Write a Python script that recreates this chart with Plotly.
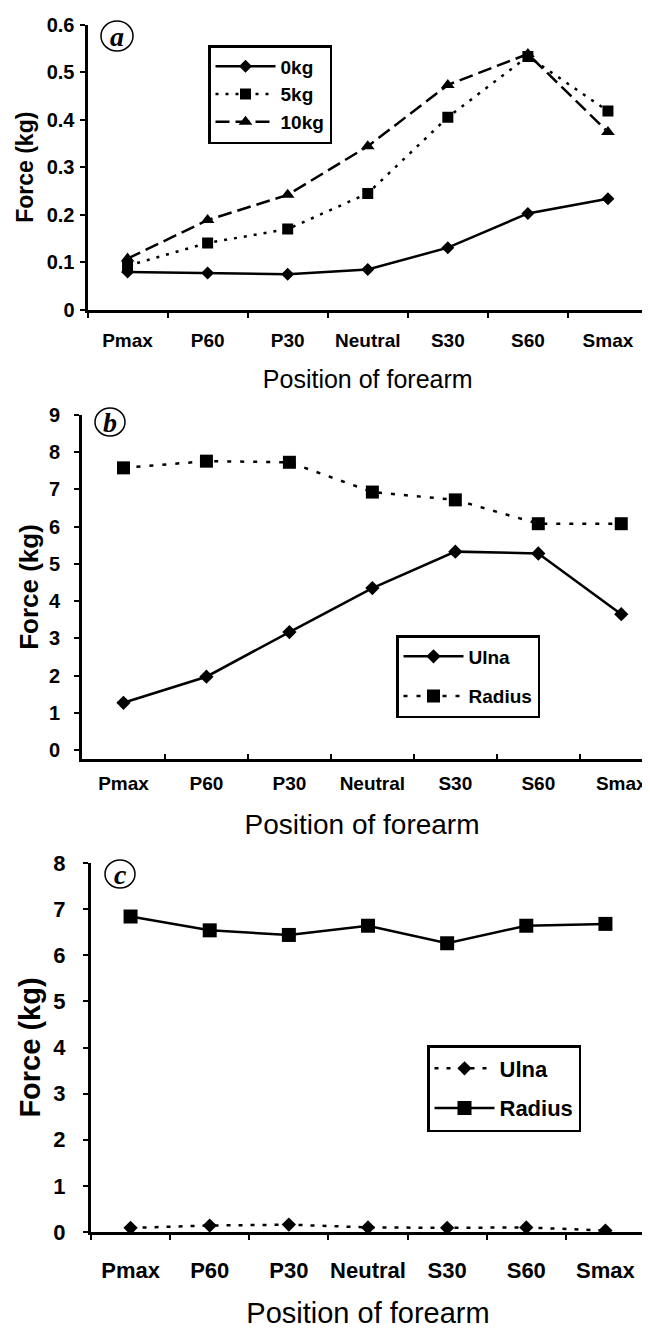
import plotly.graph_objects as go

W, H = 650, 1329
OFF = 8  # default page margin of the html body shifts the figure by 8px

positions = ["Pmax", "P60", "P30", "Neutral", "S30", "S60", "Smax"]

# Panel a: force vs forearm position for three loads
a_0kg = [0.080, 0.078, 0.075, 0.085, 0.131, 0.203, 0.234]
a_5kg = [0.093, 0.141, 0.170, 0.245, 0.405, 0.533, 0.418]
a_10kg = [0.108, 0.189, 0.242, 0.344, 0.473, 0.538, 0.374]
a_ytickvals = [0, 0.1, 0.2, 0.3, 0.4, 0.5, 0.6]
a_yticktext = ["0", "0.1", "0.2", "0.3", "0.4", "0.5", "0.6"]

# Panel b
b_ulna = [1.27, 1.97, 3.17, 4.35, 5.33, 5.28, 3.65]
b_radius = [7.58, 7.76, 7.73, 6.93, 6.72, 6.08, 6.08]

# Panel c
c_ulna = [0.09, 0.14, 0.16, 0.10, 0.09, 0.10, 0.03]
c_radius = [6.84, 6.54, 6.44, 6.64, 6.26, 6.64, 6.68]


def px(x):
    return (x - OFF) / W


def py(y):
    return 1 - (y - OFF) / H


def xd(l, r):
    return [px(l), px(r)]


def yd(t, b):
    return [py(b), py(t)]


BLACK = "black"
SANS = "Liberation Sans, Arial, sans-serif"

fig = go.Figure()

# ---- panel a ----
fig.add_trace(go.Scatter(x=positions, y=a_0kg, name="0kg", xaxis="x", yaxis="y",
                         mode="lines+markers", legend="legend",
                         line=dict(color=BLACK, width=2.5),
                         marker=dict(symbol="diamond", size=10, color=BLACK)))
fig.add_trace(go.Scatter(x=positions, y=a_5kg, name="5kg", xaxis="x", yaxis="y",
                         mode="lines+markers", legend="legend",
                         line=dict(color=BLACK, width=2.5, dash="3px,7px"),
                         marker=dict(symbol="square", size=11, color=BLACK)))
fig.add_trace(go.Scatter(x=positions, y=a_10kg, name="10kg", xaxis="x", yaxis="y",
                         mode="lines+markers", legend="legend",
                         line=dict(color=BLACK, width=2.5, dash="14px,6px"),
                         marker=dict(symbol="triangle-up", size=12, color=BLACK)))

# ---- panel b ----
fig.add_trace(go.Scatter(x=positions, y=b_ulna, name="Ulna", xaxis="x2", yaxis="y2",
                         mode="lines+markers", legend="legend2", legendgroup="b1",
                         line=dict(color=BLACK, width=2.5),
                         marker=dict(symbol="diamond", size=11, color=BLACK)))
fig.add_trace(go.Scatter(x=positions, y=b_radius, name="Radius", xaxis="x2", yaxis="y2",
                         mode="lines+markers", legend="legend2", legendgroup="b2",
                         line=dict(color=BLACK, width=2.5, dash="4px,9px"),
                         marker=dict(symbol="square", size=13, color=BLACK)))

# ---- panel c ----
fig.add_trace(go.Scatter(x=positions, y=c_ulna, name="Ulna", xaxis="x3", yaxis="y3",
                         mode="lines+markers", legend="legend3", legendgroup="c1",
                         line=dict(color=BLACK, width=2.5, dash="4px,8px"),
                         marker=dict(symbol="diamond", size=11, color=BLACK)))
fig.add_trace(go.Scatter(x=positions, y=c_radius, name="Radius", xaxis="x3", yaxis="y3",
                         mode="lines+markers", legend="legend3", legendgroup="c2",
                         line=dict(color=BLACK, width=2.5),
                         marker=dict(symbol="square", size=14, color=BLACK)))


def xaxis(domain, anchor, rng, ticks, tsize, standoff, title_size, title_standoff):
    return dict(domain=domain, anchor=anchor, type="category", range=rng,
                tickson="boundaries", ticks=ticks, ticklen=5, tickwidth=1.5,
                tickcolor=BLACK, showline=True, linecolor=BLACK, linewidth=3,
                showgrid=False, zeroline=False, automargin=False, tickangle=0,
                tickfont=dict(family=SANS, size=tsize, color=BLACK, weight="bold"),
                ticklabelstandoff=standoff,
                title=dict(text="Position of forearm", standoff=title_standoff,
                           font=dict(family=SANS, size=title_size, color=BLACK)))


def yaxis(domain, anchor, rng, tsize, standoff, title_size, title_standoff, **kw):
    d = dict(domain=domain, anchor=anchor, range=rng,
             ticks="outside", ticklen=5, tickwidth=1.5,
             tickcolor=BLACK, showline=True, linecolor=BLACK, linewidth=3,
             showgrid=False, zeroline=False, automargin=False,
             tickfont=dict(family=SANS, size=tsize, color=BLACK, weight="bold"),
             ticklabelstandoff=standoff,
             title=dict(text="Force (kg)", standoff=title_standoff,
                        font=dict(family=SANS, size=title_size, color=BLACK,
                                  weight="bold")))
    d.update(kw)
    return d


fig.update_layout(
    width=W, height=H,
    margin=dict(l=0, r=0, t=0, b=0),
    paper_bgcolor="white", plot_bgcolor="white",
    xaxis=xaxis(xd(87.5, 648), "y", [-0.5, 6.5], "outside", 19, 11, 25, 21),
    yaxis=yaxis(yd(24.5, 310), "x", [0, 0.6], 20, 1, 23, 7,
                tickmode="array", tickvals=a_ytickvals, ticktext=a_yticktext),
    xaxis2=xaxis(xd(82, 642), "y2", [-0.5, 6.25], "inside", 19, 5, 28, 22),
    yaxis2=yaxis(yd(415, 759), "x2", [-0.24, 9], 20, 10, 26, 3, dtick=1, tick0=0),
    xaxis3=xaxis(xd(91, 645), "y3", [-0.5, 6.5], "outside", 22, 17, 29, 21),
    yaxis3=yaxis(yd(863, 1232), "x3", [0, 8], 22, 13, 29, 5, dtick=1, tick0=0),
    legend=dict(x=px(208), y=py(45), xanchor="left", yanchor="top",
                bgcolor="white", bordercolor=BLACK, borderwidth=2.5,
                font=dict(family=SANS, size=19, color=BLACK, weight="bold"),
                itemwidth=60, tracegroupgap=0),
    legend2=dict(x=px(396), y=py(635), xanchor="left", yanchor="top",
                 bgcolor="white", bordercolor=BLACK, borderwidth=2.5,
                 font=dict(family=SANS, size=19, color=BLACK, weight="bold"),
                 itemwidth=60, traceorder="grouped", tracegroupgap=12),
    legend3=dict(x=px(427), y=py(1045), xanchor="left", yanchor="top",
                 bgcolor="white", bordercolor=BLACK, borderwidth=2.5,
                 font=dict(family=SANS, size=22, color=BLACK, weight="bold"),
                 itemwidth=60, traceorder="grouped", tracegroupgap=8),
)

# circled panel letters
letters = [("a", 117, 36, 16, 15), ("b", 110, 422, 15, 14), ("c", 120, 874, 15, 14)]
for txt, cx, cy, rx, ry in letters:
    fig.add_shape(type="circle", xref="paper", yref="paper",
                  x0=px(cx - rx), x1=px(cx + rx),
                  y0=py(cy + ry), y1=py(cy - ry),
                  line=dict(color=BLACK, width=1.5), fillcolor="rgba(0,0,0,0)")
    fig.add_annotation(text="<i><b>" + txt + "</b></i>", xref="paper", yref="paper",
                       x=px(cx), y=py(cy), xanchor="center", yanchor="middle",
                       showarrow=False,
                       font=dict(family="Liberation Serif, Times New Roman, serif",
                                 size=28, color=BLACK))

fig.write_html("out.html")
